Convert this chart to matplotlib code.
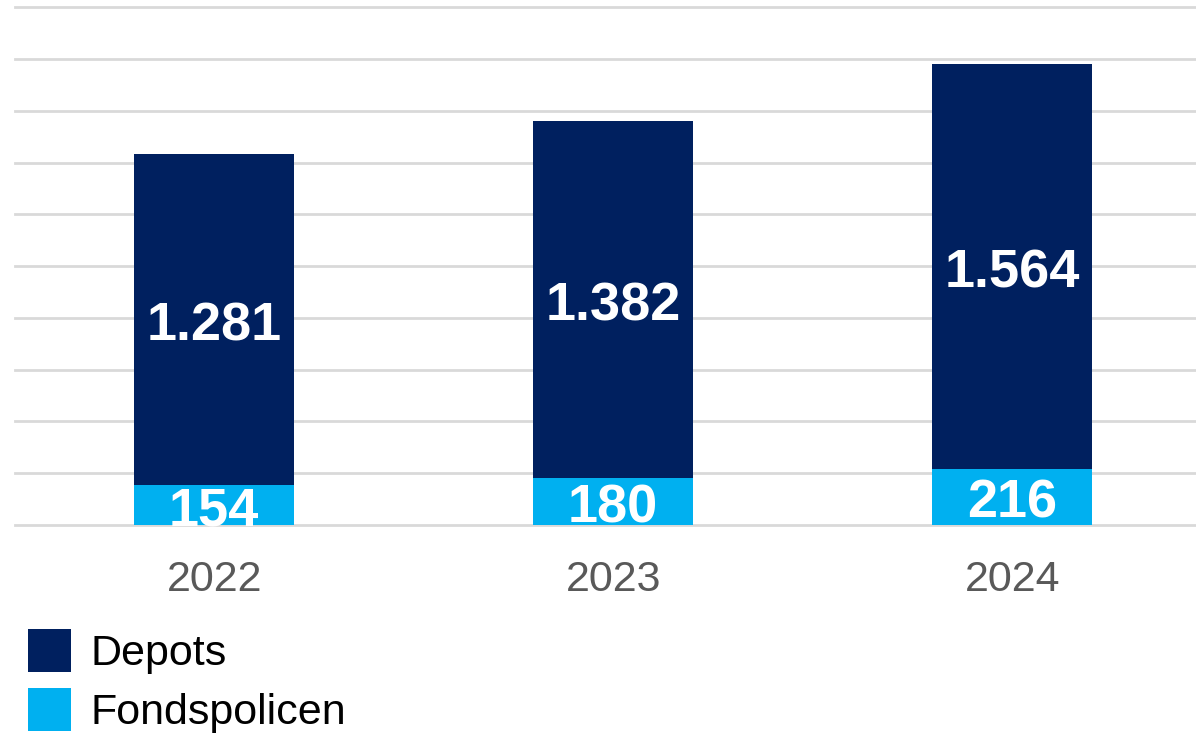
#!/usr/bin/env python3
"""Stacked bar chart: Depots and Fondspolicen per year."""

import matplotlib.pyplot as plt
import numpy as np

years = ["2022", "2023", "2024"]
fondspolicen = [154, 180, 216]
depots = [1281, 1382, 1564]
depot_labels = ["1.281", "1.382", "1.564"]
fonds_labels = ["154", "180", "216"]


def main():
    plt.rcParams["font.family"] = ["Liberation Sans", "DejaVu Sans"]

    navy = "#00205F"
    cyan = "#00B0F0"

    fig = plt.figure(figsize=(11.96, 7.38), dpi=100)
    # axes runs past the right edge, as in the original
    ax = fig.add_axes([14.7 / 1196, 1 - 524.7 / 738, 1197 / 1196, 517.2 / 738])

    x = np.arange(len(years))
    width = 0.40

    bars_f = ax.bar(x, fondspolicen, width, color=cyan, label="Fondspolicen", zorder=2)
    bars_d = ax.bar(x, depots, width, bottom=fondspolicen, color=navy,
                    label="Depots", zorder=2)

    # value labels: baseline placed so the digits sit centred in each segment
    for bars, labs in ((bars_d, depot_labels), (bars_f, fonds_labels)):
        for bar, lab in zip(bars, labs):
            t = ax.annotate(lab, (bar.get_x() + bar.get_width() / 2,
                                  bar.get_y() + bar.get_height() / 2),
                            xytext=(0, -15), textcoords="offset points",
                            ha="center", va="baseline", fontsize=39,
                            fontweight="bold", color="white", zorder=3)
            t.set_clip_on(True)

    ax.set_xlim(-0.5, 2.5)
    ax.set_ylim(0, 2000)
    ax.set_yticks(np.arange(0, 2001, 200))
    ax.yaxis.grid(True, color="#D9D9D9", linewidth=2)
    for gl in ax.get_ygridlines():
        gl.set_clip_on(False)
    ax.set_axisbelow(True)
    ax.tick_params(axis="y", left=False, labelleft=False)
    ax.tick_params(axis="x", bottom=False, labelsize=31, labelcolor="#595959", pad=22)
    ax.set_xticks(x)
    ax.set_xticklabels(years)
    for s in ax.spines.values():
        s.set_visible(False)

    handles = [bars_d, bars_f]
    fig.legend(handles, ["Depots", "Fondspolicen"], loc="upper left",
               bbox_to_anchor=(28 / 1196, 1 - 629 / 738), frameon=False,
               fontsize=31, handlelength=1.0, handleheight=1.15,
               handletextpad=0.45, labelspacing=0.33, borderpad=0,
               borderaxespad=0)

    fig.savefig("out.png", dpi=100)
    plt.close(fig)


if __name__ == "__main__":
    main()
